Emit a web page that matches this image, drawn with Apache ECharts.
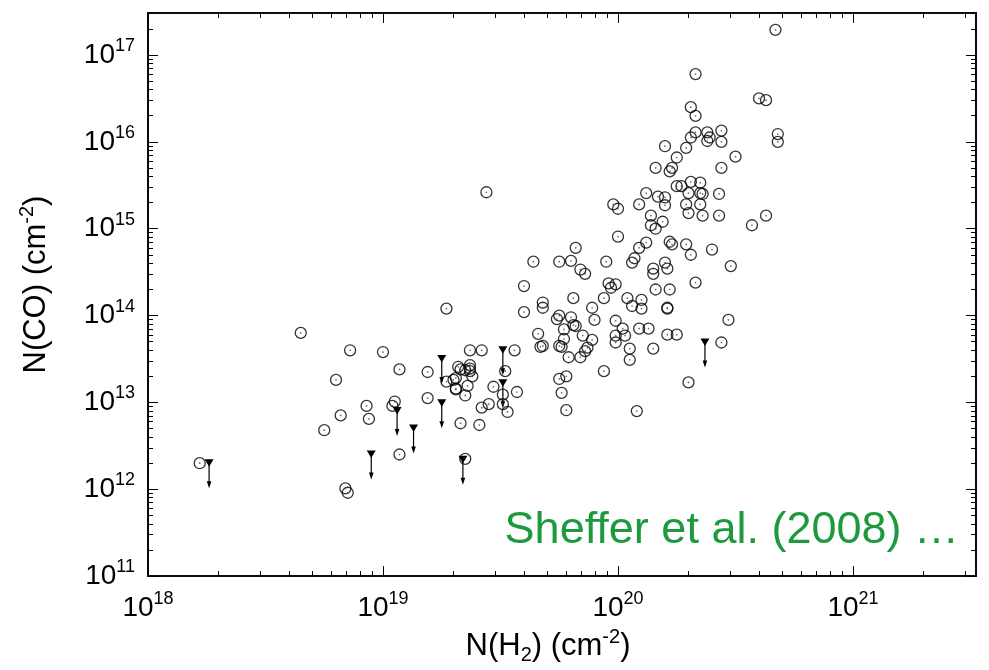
<!DOCTYPE html>
<html>
<head>
<meta charset="utf-8">
<script src="https://cdn.jsdelivr.net/npm/echarts@6/dist/echarts.min.js"></script>
<style>html,body{margin:0;padding:0;background:#fff}#c{width:989px;height:670px}</style>
</head>
<body>
<div id="c"></div>
<script>
// Values, as log10 of the column densities (cm^-2)
const circleLogNH2 = [
 18.22,18.65,18.86,19.00,18.80,18.93,18.82,18.94,18.75,18.84,18.85,19.07,19.05,19.04,19.07,19.19,19.19,19.27,19.37,19.42,
 19.56,19.32,19.33,19.37,19.37,19.37,19.38,19.35,19.52,19.31,19.30,19.27,19.31,19.31,19.36,19.47,19.51,19.51,19.57,19.35,
 19.42,19.45,19.53,19.33,19.41,19.35,
 19.44,19.60,19.68,19.68,19.81,19.75,19.74,19.80,19.81,19.82,19.77,19.66,19.77,19.67,19.68,19.75,19.76,19.79,19.84,19.75,
 19.78,19.76,19.78,19.64,19.75,19.80,19.95,19.82,19.84,19.86,19.60,19.89,19.90,19.85,19.89,19.87,19.86,19.94,19.94,20.08,
 19.98,20.00,20.00,19.96,19.99,19.97,20.04,20.06,20.10,20.10,19.99,20.02,19.99,20.03,19.99,20.09,20.13,20.05,20.05,20.15,
 20.21,20.25,20.21,20.21,20.16,20.22,20.15,20.15,20.20,20.21,20.07,20.06,20.12,20.09,20.22,20.23,20.14,20.14,20.16,20.19,
 20.09,20.12,20.17,20.20,20.20,20.25,20.27,20.29,20.40,20.31,20.48,20.33,20.47,20.44,20.30,20.33,20.60,20.63,20.31,20.33,
 20.68,20.68,20.33,20.31,20.38,20.39,20.38,20.44,20.44,20.50,20.20,20.29,20.25,20.16,20.23,20.22,20.44,20.31,20.35,20.30,
 20.35,20.36,20.43,20.29,20.35,20.30,20.36,20.43,20.63,20.57,20.67
];
const circleLogNCO = [
 12.30,13.80,13.60,13.58,13.26,12.96,12.85,12.81,12.68,12.01,11.96,13.38,13.01,12.96,12.40,13.35,13.05,14.08,13.60,13.60,
 13.60,13.41,13.38,13.43,13.39,13.36,13.30,13.37,13.36,13.28,13.26,13.24,13.16,13.15,13.19,13.18,13.09,12.98,13.12,13.08,
 12.94,12.98,12.89,12.76,12.74,12.35,
 15.42,14.04,14.15,14.09,14.20,14.00,13.96,13.98,13.89,13.88,13.84,13.79,13.73,13.64,13.65,13.65,13.64,13.52,13.52,13.27,
 13.30,13.11,12.91,14.62,14.62,14.63,14.62,14.78,14.53,14.48,14.34,14.09,13.95,13.77,13.72,13.63,13.59,14.20,13.36,12.90,
 15.28,15.23,14.91,14.37,14.36,14.32,14.20,14.11,14.18,14.08,13.94,13.85,13.77,13.77,13.69,13.85,13.85,13.62,13.49,13.62,
 13.78,13.78,14.09,14.08,14.30,14.30,14.54,14.48,14.61,14.54,14.66,14.61,14.84,14.78,14.85,14.82,15.15,15.04,15.00,15.08,
 15.28,15.41,15.37,15.36,15.27,15.49,15.49,14.82,14.76,14.70,14.57,14.38,13.95,13.69,13.23,16.78,16.50,16.48,16.40,16.30,
 16.09,16.00,16.11,16.05,16.11,16.05,16.01,16.13,16.00,15.83,15.95,15.93,15.82,15.70,15.70,15.66,15.70,15.54,15.53,15.41,
 15.41,15.40,15.40,15.28,15.28,15.18,15.15,15.15,15.15,15.04,17.29
];
// Upper limits (triangles with downward arrows)
const limitLogNH2 = [18.26,19.06,18.95,19.13,19.25,19.25,19.51,19.51,19.34,20.37];
const limitLogNCO = [12.30,12.90,12.40,12.70,13.50,12.99,13.60,13.22,12.34,13.69];
// Axis decades (tick labels)
const xDecades = [18,19,20,21];
const yDecades = [11,12,13,14,15,16,17];
const xRangeExp = [18, 21.5234];
const yRangeExp = [11, 17.4838];

const FONT = 'Liberation Sans';
const circles = circleLogNH2.map((e,i)=>[Math.pow(10,e), Math.pow(10,circleLogNCO[i])]);
const limits = limitLogNH2.map((e,i)=>[Math.pow(10,e), Math.pow(10,limitLogNCO[i])]);

function majors(decs){ return decs.map(d=>Math.pow(10,d)); }
function minors(decs){
  const out=[];
  decs.forEach(d=>{ for(let k=2;k<=9;k++) out.push(k*Math.pow(10,d)); });
  return out;
}
const labelRich = {
  b:{fontFamily:FONT,fontSize:28,lineHeight:36,color:'#000'},
  s:{fontFamily:FONT,fontSize:18,lineHeight:18,verticalAlign:'top',color:'#000'}
};
function fmt(v){ return '{b|10}{s|'+Math.round(Math.log10(v))+'}'; }

function makeAxis(kind, pos, decs, range, isMinor, withLabel){
  const a = {
    type:'log', logBase:10, position:pos,
    min:Math.pow(10,range[0]), max:Math.pow(10,range[1]),
    axisLine:{show:true, onZero:false, lineStyle:{color:'#000', width:1.6}},
    splitLine:{show:false},
    axisTick:{show:true, inside:true, length:isMinor?5:10,
      customValues: isMinor?minors(decs):majors(decs),
      lineStyle:{color:'#000', width:1}},
    axisLabel:{show:false},
    silent:true
  };
  if (withLabel){
    a.axisLabel = {show:true, customValues:majors(decs), formatter:fmt, rich:labelRich,
      margin: kind==='x'?14:13};
  }
  return a;
}

const chart = echarts.init(document.getElementById('c'), null, {renderer:'canvas'});
const xA = [
  makeAxis('x','bottom',xDecades,xRangeExp,false,true),
  makeAxis('x','bottom',xDecades,xRangeExp,true,false),
  makeAxis('x','top',xDecades,xRangeExp,false,false),
  makeAxis('x','top',xDecades,xRangeExp,true,false)
];
xA[0].name = '{a|N(H}{d|2}{a|) (cm}{s|-2}{a|)}';
xA[0].nameLocation = 'middle';
xA[0].nameGap = 47;
xA[0].nameTextStyle = {padding:[0,28,0,0], rich:{
  a:{fontFamily:FONT,fontSize:31,lineHeight:38,color:'#000'},
  d:{fontFamily:FONT,fontSize:20,lineHeight:20,verticalAlign:'bottom',color:'#000'},
  s:{fontFamily:FONT,fontSize:20,lineHeight:20,verticalAlign:'top',color:'#000'}
}};
const yA = [
  makeAxis('y','left',yDecades,yRangeExp,false,true),
  makeAxis('y','left',yDecades,yRangeExp,true,false),
  makeAxis('y','right',yDecades,yRangeExp,false,false),
  makeAxis('y','right',yDecades,yRangeExp,true,false)
];
yA[0].name = '{a|N(CO) (cm}{s|-2}{a|)}';
yA[0].nameLocation = 'middle';
yA[0].nameGap = 93;
yA[0].nameTextStyle = {padding:[0,0,0,20], rich:{
  a:{fontFamily:FONT,fontSize:31,lineHeight:38,color:'#000'},
  s:{fontFamily:FONT,fontSize:20,lineHeight:20,verticalAlign:'top',color:'#000'}
}};

chart.setOption({
  animation:false,
  backgroundColor:'#fff',
  grid:{left:148, top:13, width:828, height:565, show:false, containLabel:false},
  xAxis:xA,
  yAxis:yA,
  series:[
    {type:'scatter', xAxisIndex:0, yAxisIndex:0, data:circles, symbol:'circle', symbolSize:11,
      itemStyle:{color:'rgba(0,0,0,0)', borderColor:'#000', borderWidth:1.3}, silent:true},
    {type:'scatter', xAxisIndex:0, yAxisIndex:0, data:circles, symbol:'circle', symbolSize:1.7,
      itemStyle:{color:'#444'}, silent:true},
    {type:'custom', xAxisIndex:0, yAxisIndex:0, data:limits, silent:true,
      renderItem:function(params, api){
        const p = api.coord([api.value(0), api.value(1)]);
        const x=p[0], y=p[1];
        return {type:'group', children:[
          {type:'line', shape:{x1:x,y1:y,x2:x,y2:y+22}, style:{stroke:'#000', lineWidth:1.2}},
          {type:'polygon', shape:{points:[[x-4.5,y-4],[x+4.5,y-4],[x,y+3.5]]}, style:{fill:'#000'}},
          {type:'polygon', shape:{points:[[x-2.3,y+18],[x+2.3,y+18],[x,y+25]]}, style:{fill:'#000'}}
        ]};
      }}
  ],
  graphic:[
    {type:'text', right:30, top:508, style:{text:'Sheffer et al. (2008) …', font:'45px "Liberation Sans"', fill:'#1d9a3d'}, silent:true}
  ]
});
</script>
</body>
</html>
